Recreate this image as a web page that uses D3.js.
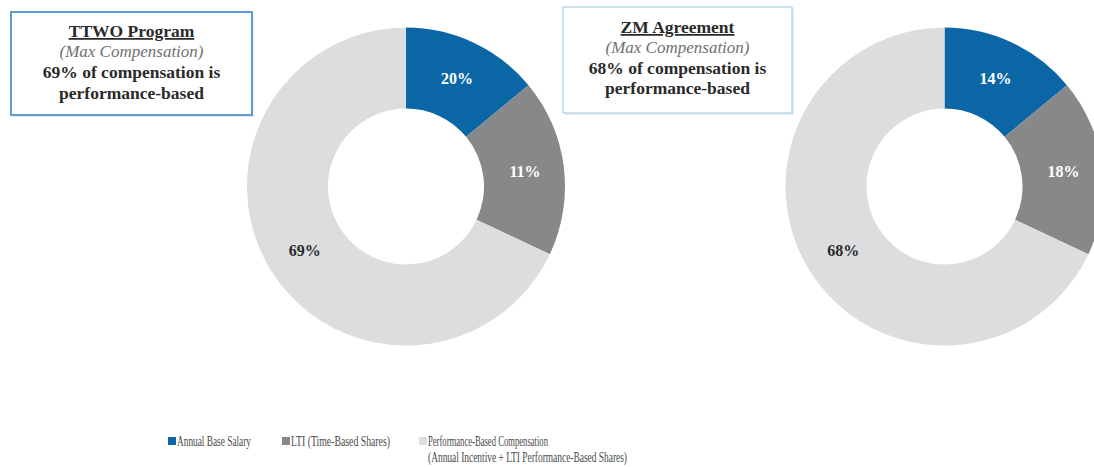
<!DOCTYPE html>
<html>
<head>
<meta charset="utf-8">
<script src="https://cdn.jsdelivr.net/npm/d3@7"></script>
<style>
  body { margin: 0; background: #fff; }
  svg text { font-family: "Liberation Serif", "Times New Roman", Times, serif; }
</style>
</head>
<body>
<div id="chart"></div>
<script>
// categories shared by both donuts
const categories = ["Annual Base Salary", "LTI (Time-Based Shares)", "Performance-Based Compensation"];
const legendSubline = "(Annual Incentive + LTI Performance-Based Shares)";

// slice sizes as drawn, and the labels printed on them
const ttwoShares = [14, 18, 68];
const ttwoLabels = ["20%", "11%", "69%"];
const zmShares = [14, 18, 68];
const zmLabels = ["14%", "18%", "68%"];

// callout box text
const ttwoBox = ["TTWO Program", "(Max Compensation)", "69% of compensation is", "performance-based"];
const zmBox = ["ZM Agreement", "(Max Compensation)", "68% of compensation is", "performance-based"];

document.addEventListener('DOMContentLoaded', function() {
    const width = 1094, height = 467;
    const outerR = 159, innerR = 78;
    const serif = '"Liberation Serif", "Times New Roman", Times, serif';

    const color = d3.scaleOrdinal()
        .domain(categories)
        .range(["#0b66a6", "#87888a", "#dcdddf"]);
    const labelColor = d3.scaleOrdinal()
        .domain(categories)
        .range(["#ffffff", "#ffffff", "#2b2b2b"]);

    const svg = d3.select("#chart").append("svg")
        .attr("width", width)
        .attr("height", height);

    const pie = d3.pie().sort(null).value(d => d.value);
    const arc = d3.arc().innerRadius(innerR).outerRadius(outerR);
    const labelArc = d3.arc().innerRadius(120).outerRadius(120);

    function drawDonut(cx, cy, shares, labels) {
        const g = svg.append("g").attr("transform", `translate(${cx}, ${cy})`);
        const rows = categories.map((c, i) => ({ name: c, value: shares[i], label: labels[i] }));
        const arcs = pie(rows);

        g.selectAll("path")
            .data(arcs)
            .join("path")
            .attr("d", arc)
            .attr("fill", d => color(d.data.name));

        g.selectAll("text")
            .data(arcs)
            .join("text")
            .attr("transform", d => `translate(${labelArc.centroid(d)})`)
            .attr("text-anchor", "middle")
            .attr("dy", "0.35em")
            .attr("font-family", serif)
            .style("font-size", "16px")
            .style("font-weight", "bold")
            .attr("fill", d => labelColor(d.data.name))
            .text(d => d.data.label);
    }

    function drawBox(x, y, w, h, lines, stroke, strokeW, baselines) {
        const g = svg.append("g");
        // faint shadow
        g.append("rect")
            .attr("x", x + 2).attr("y", y + 2)
            .attr("width", w).attr("height", h)
            .attr("fill", "#ebebeb");
        g.append("rect")
            .attr("x", x).attr("y", y)
            .attr("width", w).attr("height", h)
            .attr("fill", "#fff")
            .attr("stroke", stroke)
            .attr("stroke-width", strokeW);

        const cx = x + w / 2;
        lines.forEach((t, i) => {
            const txt = g.append("text")
                .attr("x", cx)
                .attr("y", baselines[i])
                .attr("text-anchor", "middle")
                .attr("font-family", serif)
                .style("font-size", "17.5px")
                .text(t);
            if (i === 1) {
                txt.style("font-style", "italic").attr("fill", "#707070").style("font-size", "17px");
            } else {
                txt.style("font-weight", "bold").attr("fill", "#2a2a2a");
            }
            if (i === 0) txt.style("text-decoration", "underline");
        });
    }

    drawDonut(406, 186.5, ttwoShares, ttwoLabels);
    drawDonut(944.5, 186.5, zmShares, zmLabels);

    drawBox(11, 12, 241, 103, ttwoBox, "#5b9dd2", 2, [37, 57, 78, 99]);
    drawBox(563, 7, 229, 106, zmBox, "#a9d2ec", 1.2, [33, 53, 74, 94]);

    // legend
    const legendX = [168, 282, 419];
    const legendW = [74, 99, 120];
    const legend = svg.append("g");
    categories.forEach((c, i) => {
        legend.append("rect")
            .attr("x", legendX[i]).attr("y", 437)
            .attr("width", 8).attr("height", 8)
            .attr("fill", color(c));
        legend.append("text")
            .attr("x", legendX[i] + 9)
            .attr("y", 446)
            .attr("textLength", legendW[i])
            .attr("lengthAdjust", "spacingAndGlyphs")
            .attr("font-family", serif)
            .style("font-size", "15px")
            .attr("fill", "#4a4a4a")
            .text(c);
    });
    legend.append("text")
        .attr("x", legendX[2] + 9)
        .attr("y", 462)
        .attr("textLength", 199)
        .attr("lengthAdjust", "spacingAndGlyphs")
        .attr("font-family", serif)
        .style("font-size", "15px")
        .attr("fill", "#4a4a4a")
        .text(legendSubline);
});
</script>
</body>
</html>
